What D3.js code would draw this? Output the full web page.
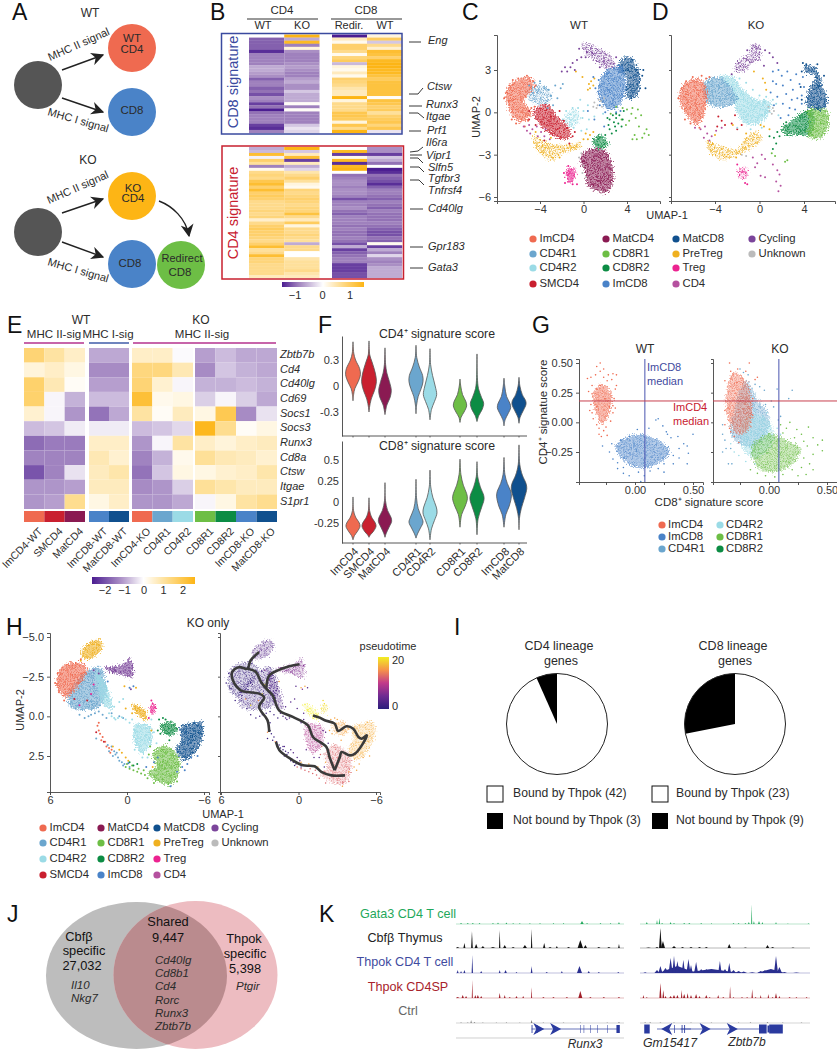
<!DOCTYPE html>
<html>
<head>
<meta charset="utf-8">
<script src="https://cdn.jsdelivr.net/npm/d3@7"></script>
<style>
  html, body { margin: 0; padding: 0; background: #fff; }
  text { font-family: "Liberation Sans", Arial, sans-serif; fill: #2b2b2b; }
  .axis text { font-size: 11px; fill: #333; }
  .axis path, .axis line { stroke: #444; stroke-width: 0.9px; }
</style>
</head>
<body>
<svg id="fig" width="837" height="1050"></svg>
<script>
var colors = {
  ImCD4: '#ef6a50', CD4R1: '#6ba6ce', CD4R2: '#9bdbe6', SMCD4: '#c9202f', MatCD4: '#8a1a52',
  CD8R1: '#6dbe45', CD8R2: '#0c8c44', ImCD8: '#4a83c8', MatCD8: '#10508e', PreTreg: '#efb020',
  Treg: '#ec2390', CD4: '#b5519f', Cycling: '#7b459b', Unknown: '#bbbbbb'
};

// ---- panel B values
var bCD8sigCD4WT = [0,-1.1,-1.1,-1.1,-1.1,-1.4,-0.9,-0.9,-0.9,-0.9,-0.6,-0.6,-0.7,-0.8,-1.1,-0.9,-0.9,-1.1,-1.0,-1.2,-0.8,-0.9,-1.3,-1.0,-1.5,-1.0,-0.9,-0.9,-0.9,-1.3,-1.4,-0.9];
var bCD8sigCD4KO = [1.5,-0.6,1.4,-0.9,0.2,-0.8,-0.9,-0.9,-0.9,-0.8,-0.7,-0.8,-0.9,-0.9,-0.7,-0.6,-0.8,-0.8,-0.4,-0.6,-0.6,-0.6,0.05,-0.9,0.05,-0.9,-0.9,-0.9,-0.9,-0.4,-0.2,-0.3];
var bCD8sigRedir = [-1.5,0.4,0.1,0.9,0.9,0.7,0.1,0.8,1.0,-0.5,0.2,0.1,0.4,0.1,0.9,0.8,0.7,0.5,0.4,0.4,1.5,0.2,0.7,0.7,0.7,1.1,1.1,1.0,0.2,1.1,0.7,1.5];
var bCD8sigCD8WT = [0.2,1.0,-0.4,0.7,0.3,1.3,1.2,0.9,1.4,1.5,1.5,1.4,1.4,1.2,1.0,1.2,1.2,1.2,1.2,1.2,0.03,1.2,1.1,0.9,1.0,0.6,0.9,1.0,1.1,0.8,1.1,-0.2];
var bCD4sigCD4WT = [-0.6,-0.5,1.3,-0.1,0.9,0.6,-0.9,0.1,0.7,0.8,0.7,1.1,1.3,0.9,1.3,0.9,1.0,0.9,0.7,0.7,0.7,0.8,0.7,0.8,0.3,0.7,0.9,1.0,0.9,0.9,0.8,0.7,0.9,1.3,0.6,0.7,1.3,0.8,0.8,0.7,0.7,0.7,0.7,0.4];
var bCD4sigCD4KO = [1.5,-0.4,0.4,1.3,-1.3,0.4,-0.6,-0.3,0.5,0.7,0.9,0.6,0.2,0.1,0.8,0.7,0.8,0.9,0.8,0.7,0.8,0.8,1.2,0.7,0.4,1.0,0.2,0.7,0.7,0.8,0.7,0.6,-0.6,0.7,0.7,0,0,0.5,0.6,0.6,0.6,0.7,0.5,0.4];
var bCD4sigRedir = [0.0,1.4,-1.3,0.1,1.4,-1.4,1.4,1.5,0,-1.0,-0.9,-0.8,-0.8,-0.9,-0.8,-0.8,-0.9,-1.2,-0.9,-0.9,-0.8,-1.0,-1.1,-0.9,-0.9,-0.9,-1.0,-0.9,-1.0,-1.0,-0.9,-1.0,-1.2,-0.6,-1.3,-1.1,-1.0,-0.9,-0.9,-1.3,-1.3,-1.3,-1.2,-1.2];
var bCD4sigCD8WT = [-0.8,-0.8,-1.3,-0.4,-0.6,-1.0,0.0,-1.5,-1.4,-1.0,-1.1,-1.2,-1.4,-1.1,-0.9,-0.9,-1.0,-1.1,-0.9,-1.0,-1.1,-0.9,-1.0,-1.0,-1.0,-0.9,-1.0,-1.1,-1.2,-1.2,-1.0,-1.1,0.1,-1.3,-0.6,-0.9,-0.3,-0.8,-0.9,-0.8,-0.6,-0.6,-0.6,-0.6];
var bGenes = [['Eng',428,41],['Ctsw',427,87],['Runx3',426,105],['Itgae',426,117],['Prf1',427,131],['Il6ra',426,143],['Vipr1',426,156],['Slfn5',428,168],['Tgfbr3',428,179],['Tnfrsf4',428,191],['Cd40lg',428,209],['Gpr183',428,247],['Gata3',428,268]];

// ---- panel E values
var eGenes = ['Zbtb7b','Cd4','Cd40lg','Cd69','Socs1','Socs3','Runx3','Cd8a','Ctsw','Itgae','S1pr1'];
var eSamples = ['ImCD4-WT','SMCD4','MatCD4','ImCD8-WT','MatCD8-WT','ImCD4-KO','CD4R1','CD4R2','CD8R1','CD8R2','ImCD8-KO','MatCD8-KO'];
var eSampleColors = ['ImCD4','SMCD4','MatCD4','ImCD8','MatCD8','ImCD4','CD4R1','CD4R2','CD8R1','CD8R2','ImCD8','MatCD8'];
var eValues = [
  [1.5,1.0,0.6,-0.9,-0.9,0.6,0.6,-0.05,-1,-0.7,-0.9,-0.9],
  [0.4,0.6,0.3,-1.2,-1.2,1.4,1.4,0.8,-1.2,-0.6,-0.8,-0.9],
  [1.6,0.8,0.1,-1,-1,1.5,0.5,-0.1,-0.8,-0.8,-0.7,-0.8],
  [1.6,-0.1,-0.8,-0.7,-0.7,2.2,0.2,0.3,-0.5,-0.1,-0.5,-0.9],
  [0.5,-0.1,-1.1,-1.5,-0.9,1.0,0.1,0.7,0.3,1.9,-1.2,-0.3],
  [-0.7,-0.6,-0.2,-0.2,-0.2,-0.7,-0.6,-0.4,2.5,1.2,0.1,0.3],
  [-1.6,-1.4,-1.4,0.6,0.6,-1.1,-0.1,1.0,0.6,0.4,0.6,0.7],
  [-1.3,-1.3,-1.3,0.8,0.5,-1.3,-0.8,0.2,1.1,0.8,0.7,0.5],
  [-1.9,-1.3,-0.3,0.7,0.9,-1.5,-0.6,0.3,0.3,0.5,0.6,0.9],
  [-1.1,-1.1,-1,0.7,0.7,-1.2,-1.1,-0.5,1.1,0.9,0.7,0.7],
  [-1.1,-1,1.2,0.3,0.6,-1.1,-1.1,-0.9,-0.1,0.3,1,1.2]
];

// ---- panel F violin outlines: [score, relative width]
var fCells = ['ImCD4','SMCD4','MatCD4','CD4R1','CD4R2','CD8R1','CD8R2','ImCD8','MatCD8'];
var fCD4score = [
  [[.51,0],[.38,.1],[.3,.35],[.2,.9],[.13,1],[.05,.7],[-.03,.25],[-.1,.08],[-.17,0]],
  [[.52,0],[.36,.1],[.28,.4],[.15,.85],[.05,1],[-.05,.75],[-.15,.3],[-.25,.06],[-.3,0]],
  [[.44,0],[.25,.08],[.15,.25],[.05,.6],[-.05,.85],[-.13,.7],[-.22,.25],[-.33,0]],
  [[.47,0],[.33,.1],[.22,.45],[.12,.9],[.05,.95],[-.03,.7],[-.12,.3],[-.22,.08],[-.32,0]],
  [[.43,0],[.25,.08],[.12,.35],[0,.7],[-.1,.9],[-.18,.6],[-.27,.2],[-.39,0]],
  [[.08,0],[0,.1],[-.1,.35],[-.18,.8],[-.23,.9],[-.3,.55],[-.36,.15],[-.42,0]],
  [[.37,0],[.1,.05],[-.03,.2],[-.13,.6],[-.2,.9],[-.27,.7],[-.34,.25],[-.41,0]],
  [[.09,0],[0,.1],[-.12,.35],[-.2,.8],[-.25,.9],[-.32,.55],[-.39,.15],[-.46,0]],
  [[.1,0],[0,.12],[-.1,.45],[-.17,.9],[-.21,.95],[-.28,.6],[-.36,.15],[-.43,0]]
];
var fCD8score = [
  [[.06,0],[-.1,.07],[-.18,.35],[-.25,.85],[-.29,.95],[-.35,.6],[-.4,.2],[-.45,0]],
  [[.05,0],[-.1,.08],[-.18,.35],[-.25,.85],[-.29,.95],[-.35,.6],[-.39,.2],[-.42,0]],
  [[.23,0],[.02,.06],[-.1,.35],[-.18,.8],[-.23,.9],[-.3,.55],[-.37,.18],[-.42,0]],
  [[.27,0],[.05,.07],[-.08,.3],[-.18,.75],[-.24,.95],[-.31,.6],[-.38,.2],[-.43,0]],
  [[.38,0],[.18,.1],[.05,.4],[-.06,.85],[-.13,.95],[-.22,.6],[-.32,.2],[-.45,0]],
  [[.51,0],[.33,.12],[.2,.45],[.1,.9],[.04,1],[-.05,.7],[-.15,.22],[-.3,0]],
  [[.48,0],[.3,.1],[.18,.45],[.08,.9],[.03,.95],[-.07,.6],[-.2,.15],[-.39,0]],
  [[.53,0],[.33,.12],[.22,.45],[.13,.9],[.07,1],[-.05,.7],[-.15,.25],[-.3,0]],
  [[.68,0],[.45,.1],[.32,.45],[.22,.95],[.16,1.05],[.05,.75],[-.08,.3],[-.2,.05],[-.33,0]]
];

// ---- panel C (WT UMAP) loose and dense regions, scattered cells
var cSparse = [
  ['CD4R1',[[-5.2,1.6],[-4,2],[-2.9,1.2],[-3.4,.6],[-4.8,.7]]],
  ['CD4R2',[[-1.7,-.2],[-.6,.2],[-.4,-.7],[-1.5,-1]]],
  ['PreTreg',[[-4.6,-1.7],[-3.7,-2],[-2.6,-2.3],[-1,-2.2],[-.2,-2.1],[-.4,-2.6],[-1.9,-2.9],[-2.8,-3.4],[-3.8,-3.1],[-4.5,-2.4]]],
  ['Cycling',[[-.2,4.9],[.6,4.8],[2.5,4],[3,3.1],[2,3.1],[1,3.7],[.2,4.1]]]
];
var cRegions = [
  ['ImCD4',[[-7.2,1.2],[-6.6,2.1],[-4.9,2.5],[-4.6,1.8],[-5.4,.8],[-4.8,-.1],[-5.7,-.7],[-6.6,-.2],[-7,.6]]],
  ['SMCD4',[[-4.6,.1],[-3.4,.6],[-2.4,-.3],[-1.2,-1.3],[-1.5,-1.9],[-2.9,-1.6],[-4.2,-.7]]],
  ['CD8R2',[[.9,-1.9],[1.6,-1.6],[2.3,-2.2],[1.5,-2.6],[.9,-2.3]]],
  ['MatCD4',[[-.2,-3],[.7,-2.6],[2,-2.7],[2.6,-3.6],[2.7,-5],[2.1,-5.7],[1.2,-5.6],[.3,-5.1],[.2,-4.2],[-.3,-3.6]]],
  ['Treg',[[-1.5,-4],[-.9,-3.9],[-.7,-4.6],[-1.3,-5],[-1.6,-4.6]]],
  ['MatCD8',[[3.2,3.4],[4,4],[4.8,3.4],[5.2,2.4],[4.9,1.2],[4,1],[4,2.6],[3.4,2.8]]],
  ['ImCD8',[[1.3,1.5],[2,2.9],[3.4,3.3],[3.9,2.4],[3.7,1],[3.2,.4],[2.3,.2],[1.7,.7]]]
];
var cPoints = [
  ['ImCD4',[[-7.1,1.4],[-6.9,.8],[-6.5,2.3],[-6,2.4],[-5.2,2.6],[-6.6,-.5],[-6.2,-.8],[-5.4,-1],[-4.6,2.2],[-4.4,1.9],[-5.1,-.6],[-7.3,1],[-6.8,1.9],[-4.8,.3],[-4.5,.4]]],
  ['CD4',[[-5.5,-1],[-5,-.9],[-4.7,-1.2],[-4.3,-1],[-4.9,-1.5],[-3.9,-1.4],[-3.5,-1.2],[-4.2,-1.7],[-5.2,-1.3],[-3.6,-1.7],[-3.1,-1.9]]],
  ['CD4R1',[[-5,1.9],[-4.5,2.1],[-4,2.2],[-3.6,1.7],[-3.2,1.6],[-3,1.2],[-2.6,1.9],[-2.1,1.7],[-2.4,1],[-2.8,.5],[-1.9,2],[-3.3,.3]]],
  ['CD4R2',[[-1.9,-.5],[-1,.3],[-.5,.3],[0,.1],[.5,-.5],[.3,-1.2],[-.2,-1.3],[-.9,-1.1],[-1.6,.1],[1.8,-.1],[-.3,.9],[.4,.5],[1,-.3],[-.1,-.4]]],
  ['PreTreg',[[.5,2],[.7,2.2],[.9,1.9],[.6,1.7],[1,2.4],[.4,1.6],[.2,-1.5],[.4,-1.9],[.6,-1.6],[0,-1.9],[-4.4,-1.4],[-3,-1.8],[-.1,2.5],[-.7,2.9],[.9,-1.4],[-2.2,-3.2]]],
  ['Unknown',[[1,.7],[1.3,.5],[1.6,.8],[1.9,1],[1.4,.9],[.9,.4],[-.4,-3.2],[-.2,-2.9],[0,-3.8],[-.1,-4.3],[1.2,.3],[1.7,.4],[.2,-4.6]]],
  ['CD8R1',[[2.5,-.1],[3,.4],[3.6,.3],[4,.2],[4.5,.3],[5,.2],[5.3,-.2],[3.5,-.5],[4.2,-.6],[4.8,-.4],[5.1,-1],[5.8,-1.2],[6,-1.6],[5.4,-1.8],[4.7,-1.6],[4.5,-1.9],[4.4,-.1],[3.9,-.9],[5.6,-1.5],[4.9,-1.9]]],
  ['CD8R2',[[2.4,-.5],[2.7,-.2],[3,-.4],[3.2,-.8],[3.5,-1],[2.9,-1],[2.4,-1.2],[2.3,-.9],[3,-.1],[3.7,.1],[2.6,-1.5],[2,-1.6],[3.3,-.2],[2.8,-.7],[3.6,-.5],[2.2,-.4],[3,-1.3]]],
  ['Cycling',[[-.6,3.7],[-.2,3.9],[-1.2,3.2],[-1.7,3.2],[-1.5,2.9],[-1,3.5],[.3,4.3],[.8,4.2],[-2,2.9],[-.4,4.5],[.2,3.9],[1.5,3.2],[-.8,3],[3,3.9]]],
  ['MatCD8',[[4.5,3.7],[5,2.8],[5.2,1.7],[5.7,1.7],[4.9,3],[4.4,1],[5.4,2.6],[5.5,3]]],
  ['ImCD8',[[.9,2.5],[1.4,2.3],[1.1,1.7],[1.5,.5],[2,0],[3,0],[3.4,.1],[.4,.1],[1,-.5],[1.9,-1]]],
  ['Treg',[[-1.4,-3.8],[-1.7,-5],[-1,-5.1],[-.6,-5.1],[-1.8,-4.3]]],
  ['SMCD4',[[-5,-.5],[-4.4,-.9],[-3,-.3],[-1.5,-1.1],[-1,-1.7],[-1.3,-2.2],[-3.6,-2],[-2.2,.1],[-1.8,-.6],[-.8,-1.4],[-5,.1]]]
];

// ---- panel D (KO UMAP)
var dSparse = [
  ['PreTreg',[[-4.8,-2],[-3.5,-2.4],[-2.1,-2.6],[-1.3,-1.9],[-.3,-1.3],[.2,-1.9],[-.8,-2.6],[-2,-3],[-3,-3.4],[-3.9,-3.2],[-4.6,-2.6]]],
  ['Cycling',[[-.6,4.9],[.1,4.7],[.1,3.8],[-.8,3.4],[-1.2,2.9],[-2.2,2.9],[-2,3.6],[-1,4.1]]],
  ['Treg',[[-1.7,-3.9],[-1.2,-3.9],[-1,-4.5],[-1.6,-4.8],[-2,-4.3]]]
];
var dRegions = [
  ['CD4R2',[[-3.6,2.6],[-2.4,2.5],[-1.5,1.6],[-.5,1],[1,.7],[.9,0],[0,-.8],[-1.3,-.8],[-2,0],[-2.6,1.6]]],
  ['CD4R1',[[-5,2.1],[-3.6,2.5],[-2.6,1.8],[-2,.9],[-3.1,.4],[-4.6,.6]]],
  ['ImCD4',[[-7.2,1.2],[-6.8,2],[-5.5,2.4],[-4.9,2],[-4.7,.8],[-5,-.2],[-5.6,-.9],[-6.4,-.4],[-7,.4]]],
  ['CD8R2',[[2.1,-1],[3,-.5],[3.8,0],[4.8,.2],[4.6,-1.6],[3.8,-1.6],[2.6,-1.6],[2,-1.3]]],
  ['CD8R1',[[4.3,.1],[6,.2],[6.1,-1.3],[5.2,-1.9],[4.3,-1.6],[4.5,-.7]]],
  ['MatCD8',[[4,3.3],[5,3.2],[5.6,2],[6.1,.6],[5.5,.2],[4.2,.5],[4.4,1.5],[5,2.6],[4.2,2.8]]]
];
var dPoints = [
  ['ImCD8',[[1.2,2.9],[1.7,3],[2,2.6],[2.5,2.9],[1.5,2],[2.1,1.9],[2.8,2.3],[3.3,2.7],[1,1.4],[1.6,1.1],[2.4,1.3],[3,1.6],[3.6,2],[2.9,.9],[3.4,1],[3.8,1.2],[1.3,.5],[2.1,.6],[3.2,.2],[3.8,.6],[2.6,-.2],[1.9,-.4],[1.2,2.2],[3.9,2.5],[4,1.8],[2.7,.3]]],
  ['CD4',[[-5.8,-1.1],[-5.3,-1.2],[-4.9,-1],[-4.7,-1.5],[-5,-1.8],[-4.3,-1.7],[-4.5,-2],[-3.9,-1.3],[-3.4,-1.1],[.2,-3],[.5,-3.3],[-.6,-3.2],[-.2,-3.6],[1.2,-3.7],[1.6,-4.1],[1.8,-4.4],[.1,-4.5],[.5,-4.6],[1.7,-5.6],[1.5,-4.9],[1.9,-5.2],[-.4,-3.9]]],
  ['SMCD4',[[-3.4,-.6],[-3.1,-.9],[-2.5,-.8],[-2,-1.2],[-1.6,-.9],[-3.7,-.3],[-2.2,-.2],[-3.8,-1]]],
  ['PreTreg',[[-1.2,-1.5],[.3,2.4],[.5,2.1],[.6,1.6],[.4,-1],[.9,-1.2],[-2.4,-.9],[-2.1,-3.2],[-4,-1.6],[.1,-.9],[-.5,2.9]]],
  ['CD8R2',[[1.3,-1.8],[1.6,-1.4],[1.5,-2.2],[1.2,-2.6],[1.8,-1.7],[2.4,-.7],[.9,-1.7]]],
  ['Unknown',[[.8,.4],[1.2,.3],[1.1,-.1],[.9,.1],[1.3,.1],[-1.6,-3],[-1.2,-3.1]]],
  ['CD8R1',[[1.1,-2.9],[2.3,-3.5],[2.5,-3.4],[1.4,-3.1]]],
  ['ImCD4',[[-7.3,1],[-6.6,2.2],[-6,2.5],[-5.2,2.6],[-4.8,2.4],[-4.5,2.5],[-6.7,-.5],[-6.2,-.8],[-5.4,-1.1]]],
  ['CD4R2',[[-1.8,2.4],[-1.2,2.1],[-.6,1.6],[0,1.2],[.6,1.1],[1.2,.9],[-2,-1.1],[-.8,-1.2],[.2,-1.1],[.4,.9],[1.5,.6],[1.7,-.2]]],
  ['Cycling',[[.5,4.4],[.9,4.2],[1.2,3.9],[-1.1,4.4],[-2.5,2.7],[.4,3.3],[1.6,3.5]]],
  ['MatCD8',[[3.9,3.5],[4.2,3.4],[3.8,2.9],[3.7,1.8],[3.8,.9],[5.8,2.6],[5.2,3.4]]],
  ['Treg',[[-2,-3.7],[-1.1,-5.1],[-1.3,-5]]]
];

// ---- panel G signature scatter
var gWTRegions = [
  ['ImCD8',[[-.17,-.2],[0,-.1],[.2,-.15],[.3,-.25],[.15,-.37],[0,-.38],[-.12,-.3]]],
  ['ImCD4',[[-.35,.28],[-.27,.32],[-.2,.22],[-.22,.08],[-.28,-.02],[-.33,.06],[-.36,.17]]]
];
var gWTPoints = [
  ['ImCD4',[[-.3,.5],[-.33,.47],[-.27,.45],[-.3,.43],[-.38,.38],[-.41,.37],[-.34,.4],[-.27,.38],[-.23,.4],[-.19,.41],[-.16,.4],[-.2,.36],[-.16,.31],[-.24,.35],[-.4,.26],[-.37,.31],[-.37,.24],[-.17,.28],[-.18,.2],[-.19,.14],[-.17,.12],[-.22,.13],[-.38,.15],[-.39,.1],[-.37,.08],[-.36,.03],[-.33,-.02],[-.31,-.05],[-.27,-.07],[-.25,-.04],[-.31,-.1],[-.29,-.12],[-.24,-.11],[-.21,.01],[-.19,.08],[-.33,.13],[-.26,.2],[-.3,.31]]],
  ['ImCD8',[[-.2,-.18],[-.22,-.25],[-.28,-.2],[-.19,-.31],[-.15,-.34],[-.1,-.38],[-.1,-.43],[-.05,-.45],[.03,-.42],[.08,-.45],[.13,-.41],[.2,-.39],[.25,-.35],[.33,-.35],[.33,-.28],[.38,-.22],[.42,-.18],[.45,-.2],[.46,-.26],[.38,-.3],[.45,-.35],[.5,-.1],[.18,.02],[.2,.03],[.24,-.03],[.12,-.05],[.02,-.06],[-.05,-.12],[-.12,-.15],[.28,-.1],[.31,-.13],[.37,-.12],[.25,-.42],[.05,-.5],[.27,-.08],[-.15,-.39]]]
];
var gKORegions = [
  ['CD4R1',[[-.2,.35],[-.1,.2],[0,.05],[-.05,-.15],[-.2,-.2],[-.33,-.1],[-.3,.1]]],
  ['CD4R2',[[-.2,.05],[-.05,.05],[.05,-.1],[-.02,-.25],[-.15,-.3],[-.25,-.15]]],
  ['CD8R1',[[-.15,-.2],[0,-.1],[.15,-.15],[.27,-.22],[.2,-.35],[.05,-.42],[-.1,-.38]]],
  ['ImCD4',[[-.36,.3],[-.3,.42],[-.2,.35],[-.15,.15],[-.17,-.05],[-.27,-.1],[-.36,.05]]]
];
var gKOPoints = [
  ['CD4R1',[[-.25,.45],[-.22,.42],[-.18,.4],[-.12,.32],[-.08,.3],[-.04,.27],[.07,.28],[.2,.27],[.17,.2],[.04,.13],[.08,.02],[-.4,-.02],[-.4,-.1],[-.38,-.15],[-.37,-.22],[-.4,-.25],[-.33,-.22],[-.35,-.35],[-.32,-.35],[.02,.18],[-.03,.15],[.1,.05]]],
  ['CD4R2',[[-.33,-.18],[-.3,-.25],[-.26,-.28],[-.2,-.33],[-.12,-.35],[.07,-.05],[.1,-.1],[-.02,.08],[-.12,.1]]],
  ['CD8R1',[[.1,-.02],[.15,-.05],[.18,0],[.24,-.06],[.28,-.1],[.34,-.04],[.38,-.13],[.42,-.19],[.46,-.15],[.46,-.24],[.38,-.27],[.33,-.2],[.3,-.3],[.35,-.35],[.28,-.38],[.2,-.4],[.12,-.44],[.05,-.46],[-.03,-.45],[-.1,-.43],[-.16,-.4],[.38,-.4],[.32,-.44],[.25,-.45],[.22,-.13],[.12,-.09],[.3,-.16]]],
  ['ImCD4',[[-.34,.5],[-.33,.43],[-.27,.45],[-.17,.5],[-.2,.43],[-.38,.35],[-.12,.36],[-.1,.38],[-.38,.1],[-.38,-.02],[-.34,-.05],[-.3,-.12],[-.26,-.17],[-.33,-.08],[-.14,.06],[-.14,.2]]]
];

// ---- panel H (KO only, reversed UMAP)
var hRegions = [
  ['CD4R2lo',[[-.6,.5],[-1.8,.6],[-1.9,1.7],[-1.1,2.35],[-.6,1.7]]],
  ['CD4R1',[[4.6,-1.2],[3.4,-2.7],[2.1,-3.1],[1.6,-1.7],[2.1,-.6],[3.4,-.4],[4.4,-.6]]],
  ['CD4R2',[[2.4,-2.9],[1.5,-1.85],[1.2,-.4],[1.9,-.8]]],
  ['ImCD4',[[5.5,-2.3],[5,-3.2],[3.7,-3.4],[3.1,-3],[3.7,-2],[4.75,-1.2],[5.4,-1.7]]],
  ['PreTreg',[[3.6,-4],[3.05,-4.6],[2.1,-4.8],[1.9,-4.4],[2.4,-3.8],[3.3,-3.6]]],
  ['PreTregMid',[[-.35,-.8],[-1.5,-.3],[-1.5,.25],[-.7,-.2]]],
  ['Cycling',[[1.75,-3],[.3,-3.3],[-.2,-3.7],[-.5,-2.7],[-.35,-2.4],[.3,-2.6],[1.35,-2.8]]],
  ['Treg',[[-1.8,-.7],[-2.25,-.7],[-2.1,-.2],[-1.8,-.25]]],
  ['CD8R2',[[-2.55,.55],[-3.6,.35],[-3.85,1],[-3.1,1.2]]],
  ['CD8R1',[[-2,2.35],[-2.8,1.8],[-3.85,2.35],[-4.1,3.2],[-3.6,4.25],[-2.8,4.25],[-1.65,3.6],[-2.3,3.2]]],
  ['MatCD8',[[-4.1,.65],[-4.8,.45],[-5.8,.35],[-5.9,1.3],[-5.4,2.15],[-4.5,2.8],[-3.85,2.15],[-4.25,1.4]]]
];
var hPoints = [
  ['ImCD4',[[2.3,.6],[2.2,.9],[2.1,1.1],[1.9,1.3],[1.7,1.6],[1.6,1.9],[1.4,2],[1.2,2.1],[1.3,2.3],[3.6,-3.6],[5.6,-2.1],[5.4,-2.7],[4.9,-1],[2.2,.4],[2,1.5]]],
  ['CD4R1',[[1.5,1.8],[1.2,1.9],[.9,2.4],[.7,2.6],[.6,2.8],[.4,2.9],[.2,3],[2.4,1.4],[3.7,-.1],[3,0],[2.5,-.2],[1.9,-.1],[1.2,-.2],[.6,0],[.3,.1],[4,-.5],[1,2.2],[-.2,3.2],[1.1,2.5],[1.4,2.2],[.8,2.3],[.3,3.1],[1.6,.1],[2.2,-.3],[2.8,-.1],[3.3,.1]]],
  ['CD4R2',[[1.4,-.2],[1,.1],[.7,.1],[.4,.05],[1,-.6],[.6,-.9],[.3,-1.1],[-.4,.2],[-.2,.4],[-1.6,2.6],[-1.2,2.6],[-.6,2.1],[-2.1,1],[-1.9,.2],[.9,.2],[1.2,.0],[.1,.2],[-2.3,1.7]]],
  ['PreTreg',[[.2,-1.9],[-.7,-1.8],[1.1,1.9],[.6,2.1],[.4,2.3],[.1,2.6],[-.1,2.8],[3.6,-3.5],[-2,3.2],[-1.9,.9],[-.4,-.2],[.1,-.5]]],
  ['CD8R1',[[.1,3.2],[-.2,3.3],[-.5,3.4],[-.8,3.5],[-1.1,3.6],[-1.4,3.7],[-1.6,3.9],[-3.9,4.1],[-2.1,4.2],[-1.8,1.9],[-1.7,2.4],[0,3],[-.4,3.1],[-.9,3.3],[-1.3,3.4]]],
  ['CD8R2',[[-2.5,.2],[-2.8,.1],[-2.6,1.1],[-2.4,.9],[-3.3,1.5],[-.8,3],[-.2,2.9],[-.5,3.1],[-3,.2],[-3.9,.8]]],
  ['ImCD8',[[-4.3,3.2],[-4.5,3.4],[-3.9,3.5],[-4.7,3],[-5,2.6],[-5.5,2.5],[-3.4,4.4],[-2.1,2.9],[-2.4,2.6],[-.2,-1.8],[-.5,-1.9],[1.5,-2.2],[-.1,2.95],[-1.5,3.2]]],
  ['Treg',[[-1.9,-1],[-1.7,.1],[-2,-.8],[3.7,-.7],[2.8,-1.4],[2.6,-2]]],
  ['SMCD4',[[2.4,1],[1.8,1.6],[3.1,-1],[4.1,-1.1]]],
  ['Cycling',[[2.2,-2.7],[2.6,-2.9],[.9,-2.9],[.5,-2.8],[-.4,-3.2],[-.3,-1.7]]]
];
// pseudotime carried by each group in the right-hand H plot
var hPseudo = { ImCD4: 1, CD4R1: 1.5, CD4R2: 3, CD4R2lo: 9, PreTreg: 3, PreTregMid: 20, Cycling: 6, Treg: 19, CD8R2: 16, CD8R1: 12.5, MatCD8: 16.5, ImCD8: 16, SMCD4: 15 };
var hTrajectories = [
  [[3.05,-4.05],[3.7,-3.53],[3.96,-3],[4.6,-3.1],[5.13,-2.8],[5.08,-2.27],[4.48,-1.64],[3.96,-1.53],[3.05,-1.43],[2.66,-1.18],[3.05,-.59],[2.4,.25],[2.27,.99]],
  [[3.96,-3],[3.3,-2.8],[2.9,-2.16],[2.5,-1.74],[2,-1.32],[1.5,-.38],[.44,.04],[-.73,.57],[-1.12,1.3],[-2.16,1.93],[-2.4,2.56],[-2.8,3.4]],
  [[2.5,-1.74],[2.27,-2.58],[1.6,-2.9],[.7,-3.15],[-.08,-3.28]],
  [[1.74,1.62],[1.48,2.14],[.44,2.77],[-.34,3.09],[-1.25,3.15],[-1.77,3.5],[-2.55,3.72],[-3.6,3.72]],
  [[-2.8,3.4],[-3.2,2.56],[-3.33,2.25],[-3.98,2.46],[-4.38,2.35],[-4.9,1.83],[-5.29,1.2],[-4.9,1.41],[-4.64,1.3],[-4.24,.78],[-3.72,.63],[-3.07,.92],[-2.8,.46],[-2.03,.25],[-1.64,.08],[-1.12,-.06]]
];

// ---- panel I, J
var iCD4pie = [42, 3];
var iCD8pie = [23, 9];

// ---- panel K peaks: [position along the locus, height, half width]
var kRunx3 = [
  [[3,1,.6],[7,1,.6],[10,1,.6],[14,1,.5],[22,1,.5],[25,1.5,.5],[30,1.5,.5],[34,1,.4],[38,1,.4],[44,1,.4],[50,1,.4],[58,1,.4],[64,1,.4],[75,3,1],[78,1,.5],[86,1,.5],[92,1,.4],[97,2,.5]],
  [[1,1,1],[5,5,.6],[9.5,17,.5],[12,4,.9],[16,2,1],[22,1,1.5],[26,18,.4],[29,3,1],[34,1,1],[41,3,1.2],[45,19,.4],[52.5,5,.7],[56,1,1],[60,2,.6],[67,1,1],[74,8,1.6],[77,3,1],[85,1,1],[97,4,.5],[91,1,1]],
  [[1,3,.5],[3,2,.5],[5,3,.6],[9.7,18,.4],[15,2,.6],[26,3,.5],[29.5,3,.8],[36,1,.5],[45,7,.5],[54,1,.7],[63,2,.5],[73.5,7,1.5],[79,2,.7],[85,1,.6],[96.6,1,.6]],
  [[1,1,1],[4,3,.7],[6,2,.6],[9.7,18,.3],[11.5,3,.6],[13,3,.7],[15,2,.6],[26,5,.5],[29,3,.5],[32,1,.6],[36,2,.6],[40,2,.5],[45,11,.3],[52,1,.7],[58,1,.7],[66,1,.7],[74,7,1.2],[80,1,.7],[88,1,.7],[97,1,.7]],
  [[3,.5,.6],[7,.5,.6],[9,3,.4],[11,1,.5],[16,.5,.5],[24,.5,.4],[30,.8,.4],[38,.5,.4],[45,3,.5],[52,.5,.5],[64,.5,.5],[74,.5,.5],[90,.5,.5],[97,1,.5]]
];
var kZbtb7b = [
  [[4,2,.5],[10,4,.4],[11.4,6,.4],[13,1,.5],[18,2,.5],[20,1,.5],[26,1,.6],[29,1,.6],[36,1,.5],[42,1,.3],[55,1,.5],[58,1,.5],[62,1,.5],[64,2,.5],[65.7,20,.3],[67,3,.4],[70,3,.6],[72,2,.4],[80,2,.4],[87,.5,.4],[99,1,.3]],
  [[5,.5,1.5],[10,1,1],[12,20,.8],[13.5,7,1.2],[20,2,1.2],[25,1,1],[30,1,1],[35,1,1],[39,1,1],[52.5,4,1],[62,.5,1],[75,3,1],[78,1,1],[90,.5,1]],
  [[3,.8,1],[22,7,11],[42,4,17],[77,4,8],[10,3,1.5],[12,7,1.2],[15,5,2],[18,15,1.2],[20,17,1],[22,12,1.2],[25.5,13,1],[28.5,14,1.2],[30,8,1],[33,11,1.2],[36,4,1.5],[39,4,1.5],[43,3,2],[47,12,1],[50,4,1.5],[52.5,10,1],[55,3,1.5],[58,2,2],[61,1.5,2],[66,.8,2],[71,2,2],[73.5,3,1.5],[80,17,1.2],[82,6,1.5],[85,1,1.5],[92,.5,2]],
  [[2,3,.4],[4,1,.4],[12,15,.6],[13.7,8,.5],[15,2,.6],[18,2,.8],[20,3,.8],[22,3,.7],[24.5,8,.4],[26,4,.7],[28,5,.5],[30,3,.6],[33,4,.7],[35,2,.6],[39,3,.7],[41,1,.5],[46,3,.5],[49,1,.6],[53,12,.35],[55,1,.4],[60,1,.5],[63,1,.5],[66,9,.4],[68,1,.5],[71,3,.4],[75.5,4,.4],[78,1,.5],[80,5,.6],[82,2,.5],[88,1,.6],[92,1,.5],[98,1,.5]],
  [[3,.8,.5],[6,.8,.5],[12,.5,.6],[20,.5,.5],[30,.5,.5],[42,.5,.5],[58,.5,.5],[65,.8,.5],[75,1,.5],[84,.6,.5],[95,.6,.5]]
];
var kLabels = [
  ['Gata3 CD4 T cell', '#1fa85b', 408, 915],
  ['Cbf\u03b2 Thymus', '#222', 405, 939],
  ['Thpok CD4 T cell', '#3f4ba0', 405, 963],
  ['Thpok CD4SP', '#a8232c', 408, 988],
  ['Ctrl', '#666', 408, 1012]
];
var kColors = ['#1fa85b', '#111', '#2a2f8f', '#a01d27', '#777'];
var kRunx3Exons = [[45,.5],[48,.5],[74,.3],[76,.3],[80,.3],[84,.3],[90,.3],[95.5,2]];
var kRunx3Chevrons = [[49,1],[59,1]];
var kZbtb7bExons = [[2.5,3.2],[20,.4],[24.5,.5],[26,.5],[70,4.5],[75,1.2],[76,8]];
var kZbtb7bChevrons = [[16,-1],[38,1],[54,1]];

var legendCols = [
  ['ImCD4','CD4R1','CD4R2','SMCD4'],
  ['MatCD4','CD8R1','CD8R2','ImCD8'],
  ['MatCD8','PreTreg','Treg','CD4'],
  ['Cycling','Unknown']
];

var svg = d3.select('#fig');
var defs = svg.append('defs');

// Scale from two reference tick positions, with its range stretched to the axis ends
function scaleFrom(v0, p0, v1, p1, pMin, pMax) {
  var s = d3.scaleLinear().domain([v0, v1]).range([p0, p1]);
  return d3.scaleLinear().domain([s.invert(pMin), s.invert(pMax)]).range([pMin, pMax]);
}

function label(x, y, str, size, opts) {
  opts = opts || {};
  var t = svg.append('text')
    .attr('x', x)
    .attr('y', y)
    .attr('font-size', size)
    .attr('text-anchor', opts.anchor || 'middle')
    .attr('dominant-baseline', 'middle')
    .text(str);
  if (opts.italic) t.attr('font-style', 'italic');
  if (opts.color) t.style('fill', opts.color);
  if (opts.rotate !== undefined) t.attr('transform', 'rotate(' + opts.rotate + ' ' + x + ' ' + y + ')');
  return t;
}

// ****************** panel letters ***************************
[['A',12,14],['B',210,14],['C',462,14],['D',652,14],['E',7,327],['F',318,327],['G',532,327],['H',6,629],['I',454,629],['J',7,916],['K',319,916]].forEach(function(d) {
  label(d[1], d[2], d[0], 23, { anchor: 'start', color: '#111' });
});

// ****************** A ***************************
function drawA() {
  defs.append('marker').attr('id', 'head').attr('viewBox', '0 0 10 10')
    .attr('refX', 9).attr('refY', 5).attr('markerWidth', 13).attr('markerHeight', 13)
    .attr('orient', 'auto').attr('markerUnits', 'userSpaceOnUse')
    .append('path').attr('d', 'M0,0L10,5L0,10L3,5Z').attr('fill', '#222');

  var circles = [[38,85,'#555'],[132,48,colors.ImCD4],[132,112,colors.ImCD8],[38,232,'#555'],[132,196,'#fdb515'],[132,264,colors.ImCD8],[181,265,colors.CD8R1]];
  svg.selectAll('circle.a').data(circles).enter().append('circle').attr('class', 'a')
    .attr('cx', function(d) { return d[0]; })
    .attr('cy', function(d) { return d[1]; })
    .attr('r', 24)
    .attr('fill', function(d) { return d[2]; });
  var arrows = ['M62,70L103,55', 'M62,98L103,112', 'M62,213L103,199', 'M62,242L103,257', 'M159,201C172,206 186,218 189,236'];
  svg.selectAll('path.a').data(arrows).enter().append('path').attr('class', 'a')
    .attr('d', function(d) { return d; })
    .attr('fill', 'none').attr('stroke', '#222').attr('stroke-width', 1.4)
    .attr('marker-end', 'url(#head)');
  label(90, 14, 'WT', 12);
  label(88, 161, 'KO', 12);
  label(79, 45, 'MHC II signal', 11, { rotate: -24 });
  label(78, 121, 'MHC I signal', 11, { rotate: 16 });
  label(78, 188, 'MHC II signal', 11, { rotate: -24 });
  label(78, 271, 'MHC I signal', 11, { rotate: 16 });
  label(132, 39, 'WT', 11.5);
  label(132, 50, 'CD4', 11.5);
  label(132, 111, 'CD8', 11.5);
  label(133, 189, 'KO', 11.5);
  label(133, 199, 'CD4', 11.5);
  label(130, 264, 'CD8', 11.5);
  label(182, 259, 'Redirect', 11);
  label(180, 273, 'CD8', 11.5);
}
drawA();

// ****************** B ***************************
function drawB() {
  var color = d3.scaleLinear().domain([-1.5, -0.95, 0, 0.8, 1.5]).range(['#4b1d91', '#9a7ab9', '#ffffff', '#fed57a', '#fdb515']);
  var xLeft = d3.scaleBand().domain([0, 1]).range([249, 319.5]);
  var xRight = d3.scaleBand().domain([2, 3]).range([332, 402]);
  var colX = function(c) { return c < 2 ? xLeft(c) : xRight(c); };

  function heat(columns, y0, y1) {
    var y = d3.scaleBand().domain(d3.range(columns[0].length)).range([y0, y1]);
    columns.forEach(function(col, c) {
      svg.append('g').selectAll('rect').data(col).enter().append('rect')
        .attr('x', colX(c))
        .attr('y', function(d, i) { return y(i); })
        .attr('width', xLeft.bandwidth())
        .attr('height', y.bandwidth() + 0.2)
        .attr('fill', function(d) { return color(d); });
    });
  }
  heat([bCD8sigCD4WT, bCD8sigCD4KO, bCD8sigRedir, bCD8sigCD8WT], 34.5, 133);
  heat([bCD4sigCD4WT, bCD4sigCD4KO, bCD4sigRedir, bCD4sigCD8WT], 147, 278);

  svg.append('rect').attr('x', 221.5).attr('y', 33.5).attr('width', 180.5).attr('height', 100.5)
    .attr('fill', 'none').attr('stroke', '#3a4a9f').attr('stroke-width', 1.5);
  svg.append('rect').attr('x', 222).attr('y', 146).attr('width', 181.5).attr('height', 133)
    .attr('fill', 'none').attr('stroke', '#c8202f').attr('stroke-width', 1.5);
  label(234, 82, 'CD8 signature', 14.5, { rotate: -90, color: '#3a4a9f' });
  label(234, 213, 'CD4 signature', 14.5, { rotate: -90, color: '#c8202f' });

  label(282, 11, 'CD4', 11.5);
  label(366, 11, 'CD8', 11.5);
  svg.append('path').attr('d', 'M247,19H318M331,19H402').attr('stroke', '#333').attr('stroke-width', 1);
  label(263, 26, 'WT', 11);
  label(302, 26, 'KO', 11);
  label(349, 26, 'Redir.', 11);
  label(385, 26, 'WT', 11);

  bGenes.forEach(function(g) {
    label(g[1], g[2], g[0], 11, { anchor: 'start', italic: true });
  });
  var connectors = [
    [[409,42],[421,42]], [[409,94],[418,94],[423,88]], [[409,106],[422,106]], [[409,113],[418,113],[424,118]],
    [[409,131],[421,131]], [[410,152],[418,151],[423,147]], [[410,155],[422,155]], [[410,158],[418,158],[423,163]],
    [[410,167],[419,167],[424,172]], [[410,180],[419,180],[424,185]], [[410,209],[423,209]], [[410,247],[423,247]], [[410,268],[423,268]]
  ];
  svg.append('g').selectAll('path').data(connectors).enter().append('path')
    .attr('d', d3.line())
    .attr('fill', 'none').attr('stroke', '#222').attr('stroke-width', 0.9);

  colorBar('bGrad', color, [-1.5, 1.5], 282, 364, 282, 287);
  var bx = d3.scaleLinear().domain([-1, 1]).range([295, 350]);
  [[-1, '\u22121'], [0, '0'], [1, '1']].forEach(function(t) {
    label(bx(t[0]), 296, t[1], 11);
  });
}

function colorBar(id, color, domain, x0, x1, y0, y1, vertical) {
  var grad = defs.append('linearGradient').attr('id', id);
  if (vertical) grad.attr('x1', 0).attr('x2', 0).attr('y1', 1).attr('y2', 0);
  d3.range(0, 1.01, 0.05).forEach(function(t) {
    grad.append('stop').attr('offset', t)
      .attr('stop-color', color(domain[0] + t * (domain[1] - domain[0])));
  });
  svg.append('rect').attr('x', x0).attr('y', y0).attr('width', x1 - x0).attr('height', y1 - y0)
    .attr('fill', 'url(#' + id + ')');
}
drawB();

// ****************** stippled scatter helpers ***************************
// roughens region edges so a dense cell cloud does not read as a flat shape
var speckle = defs.append('filter').attr('id', 'speckle')
  .attr('x', '-20%').attr('y', '-20%').attr('width', '140%').attr('height', '140%');
speckle.append('feTurbulence').attr('type', 'fractalNoise').attr('baseFrequency', 0.65)
  .attr('numOctaves', 2).attr('seed', 4).attr('result', 'noise');
speckle.append('feDisplacementMap').attr('in', 'SourceGraphic').attr('in2', 'noise')
  .attr('scale', 9).attr('xChannelSelector', 'R').attr('yChannelSelector', 'G');

var patternCount = 0;
function stipple(fill, r) {
  var id = 'st' + patternCount++;
  var p = defs.append('pattern').attr('id', id).attr('patternUnits', 'userSpaceOnUse')
    .attr('width', 5.3).attr('height', 5.3).attr('patternTransform', 'rotate(27)');
  [[.8,.8],[3.4,1.4],[1.7,3.4],[4.4,4.2],[2.6,.1]].forEach(function(c) {
    p.append('circle').attr('cx', c[0]).attr('cy', c[1]).attr('r', r).attr('fill', fill);
  });
  return 'url(#' + id + ')';
}

function scatter(g, x, y, regions, points, colorOf, under, r) {
  var hull = d3.line().x(function(d) { return x(d[0]); }).y(function(d) { return y(d[1]); }).curve(d3.curveCatmullRomClosed);
  var blobs = g.append('g').attr('filter', 'url(#speckle)');
  regions.forEach(function(reg) {
    var c = colorOf(reg[0]);
    if (under > 0) blobs.append('path').attr('d', hull(reg[1])).attr('fill', c).attr('opacity', under);
    blobs.append('path').attr('d', hull(reg[1])).attr('fill', stipple(c, r * 0.9));
  });
  points.forEach(function(set) {
    g.append('g').selectAll('circle').data(set[1]).enter().append('circle')
      .attr('cx', function(d) { return x(d[0]); })
      .attr('cy', function(d) { return y(d[1]); })
      .attr('r', r)
      .attr('fill', colorOf(set[0]));
  });
}

function axes(x, y, xTicks, yTicks, bottom, left, xFmt, yFmt, noY) {
  var xa = d3.axisBottom(x).tickValues(xTicks).tickSizeOuter(0).tickSize(3).tickPadding(1.5);
  if (xFmt) xa.tickFormat(xFmt);
  svg.append('g').attr('class', 'axis').attr('transform', 'translate(0,' + bottom + ')').call(xa);
  var ya = d3.axisLeft(y).tickValues(yTicks).tickSizeOuter(0).tickSize(noY ? 2 : 3);
  if (yFmt) ya.tickFormat(yFmt);
  var gy = svg.append('g').attr('class', 'axis').attr('transform', 'translate(' + left + ',0)').call(ya);
  if (noY) gy.selectAll('text').remove();
}

var minus = function(f) {
  return function(d) { return f(d).replace('-', '\u2212'); };
};

// ****************** C, D ***************************
function drawCD() {
  var xC = scaleFrom(-4, 540, 4, 627, 497, 660);
  var xD = scaleFrom(-4, 715, 4, 804, 671, 835);
  var y = scaleFrom(3, 70, -6, 197, 201, 35);
  var ofCluster = function(n) { return colors[n]; };
  scatter(svg.append('g'), xC, y, cSparse, [], ofCluster, 0, 1);
  scatter(svg.append('g'), xC, y, cRegions, cPoints, ofCluster, 0.45, 1);
  scatter(svg.append('g'), xD, y, dSparse, [], ofCluster, 0, 1);
  scatter(svg.append('g'), xD, y, dRegions, dPoints, ofCluster, 0.45, 1);
  var fmt = minus(d3.format('d'));
  axes(xC, y, [-4, 0, 4], [3, 0, -3, -6], 201, 497, fmt, fmt);
  axes(xD, y, [-4, 0, 4], [3, 0, -3, -6], 201, 671, fmt, fmt, true);
  label(579, 26, 'WT', 11.5);
  label(756, 26, 'KO', 11.5);
  label(477, 117, 'UMAP-2', 11, { rotate: -90 });
  label(667, 216, 'UMAP-1', 11);
  clusterLegend([533, 606, 676, 752], [239, 254, 268, 284], 6.5, 11.3);
}

function clusterLegend(xs, ys, gap, size) {
  legendCols.forEach(function(col, c) {
    col.forEach(function(name, r) {
      svg.append('circle').attr('cx', xs[c]).attr('cy', ys[r]).attr('r', 3.6).attr('fill', colors[name]);
      label(xs[c] + gap, ys[r], name, size, { anchor: 'start' });
    });
  });
}
drawCD();

// ****************** E ***************************
function drawE() {
  var color = d3.scaleLinear().domain([-2.6, -1.2, 0, 1.2, 2.6]).range(['#4b1d91', '#a78bc4', '#ffffff', '#fedd8f', '#fdb515']);
  var groups = [[0, 3, 24, 85], [3, 5, 89, 129], [5, 8, 132, 193], [8, 12, 195, 277]];
  var y = d3.scaleBand().domain(eGenes).range([348, 509]);
  var bars = svg.append('g');
  groups.forEach(function(gr) {
    var x = d3.scaleBand().domain(d3.range(gr[0], gr[1])).range([gr[2], gr[3]]);
    eValues.forEach(function(row, r) {
      svg.append('g').selectAll('rect').data(row.slice(gr[0], gr[1])).enter().append('rect')
        .attr('x', function(d, i) { return x(gr[0] + i); })
        .attr('y', y(eGenes[r]))
        .attr('width', x.bandwidth())
        .attr('height', y.bandwidth())
        .attr('fill', function(d) { return color(d); });
    });
    x.domain().forEach(function(c) {
      bars.append('rect').attr('x', x(c)).attr('y', 511).attr('width', x.bandwidth()).attr('height', 11)
        .attr('fill', colors[eSampleColors[c]]);
      var cx = x(c) + x.bandwidth() / 2 + 7;
      label(cx, 530, eSamples[c], 10.4, { anchor: 'end', rotate: -45 });
    });
  });
  eGenes.forEach(function(g) {
    label(280, y(g) + y.bandwidth() / 2, g, 11, { anchor: 'start', italic: true });
  });
  svg.append('path').attr('d', 'M24,343H84M133,343H276').attr('stroke', '#b5338f').attr('stroke-width', 1.3);
  svg.append('path').attr('d', 'M89,343H129').attr('stroke', '#3f5ba8').attr('stroke-width', 1.3);
  label(81, 321, 'WT', 12);
  label(201, 321, 'KO', 12);
  label(54, 335, 'MHC II-sig', 11.5);
  label(108, 335, 'MHC I-sig', 11.5);
  label(202, 335, 'MHC II-sig', 11.5);
  colorBar('eGrad', color, [-2.6, 2.6], 92, 195, 577, 584);
  var bx = d3.scaleLinear().domain([-2, 2]).range([105, 183]);
  [[-2, '\u22122'], [-1, '\u22121'], [0, '0'], [1, '1'], [2, '2']].forEach(function(t) {
    label(bx(t[0]), 591, t[1], 11);
  });
}
drawE();

// ****************** F ***************************
function drawF() {
  var xPos = d3.scaleOrdinal().domain(fCells).range([353, 369, 385, 416, 430, 460, 477, 504, 519]);
  var w = d3.scaleLinear().domain([0, 1]).range([0, 7.4]);
  var yTop = scaleFrom(0.3, 360, -0.3, 412, 436, 336);
  var yBot = scaleFrom(0.5, 460, -0.25, 523, 543, 441);

  function violins(data, y) {
    data.forEach(function(shape, i) {
      var cx = xPos(fCells[i]);
      var area = d3.area()
        .y(function(d) { return y(d[0]); })
        .x0(function(d) { return cx - w(d[1]); })
        .x1(function(d) { return cx + w(d[1]); })
        .curve(d3.curveCatmullRom);
      svg.append('path').attr('d', area(shape))
        .attr('fill', colors[fCells[i]]).attr('stroke', '#555').attr('stroke-width', 0.8);
    });
  }
  violins(fCD4score, yTop);
  violins(fCD8score, yBot);

  function spine(y, ticks, fmt, bottom) {
    var ya = d3.axisLeft(y).tickValues(ticks).tickSize(0).tickSizeOuter(0).tickFormat(fmt);
    svg.append('g').attr('class', 'axis').attr('transform', 'translate(342,0)').call(ya);
    svg.append('path').attr('d', 'M342,' + bottom + 'H527').attr('stroke', '#444').attr('stroke-width', 0.9);
    svg.append('g').selectAll('line').data(fCells).enter().append('line')
      .attr('x1', function(d) { return xPos(d); })
      .attr('x2', function(d) { return xPos(d); })
      .attr('y1', bottom).attr('y2', bottom + 1.5)
      .attr('stroke', '#444').attr('stroke-width', 0.8);
  }
  spine(yTop, [0.3, 0, -0.3], function(d) { return d === 0 ? '0' : String(d); }, 436);
  spine(yBot, [0.5, 0.25, 0, -0.25], function(d) { return d === 0 ? '0' : String(d); }, 543);
  label(437, 335, 'CD4\u207a signature score', 12.3);
  label(437, 447, 'CD8\u207a signature score', 12.3);
  fCells.forEach(function(c) {
    label(xPos(c) + 4, 550, c, 11, { anchor: 'end', rotate: -45 });
  });
}
drawF();

// ****************** G ***************************
function drawG() {
  var xWT = scaleFrom(0, 635, 0.5, 693, 579, 703);
  var xKO = scaleFrom(0, 769, 0.5, 827, 713, 837);
  var y = scaleFrom(0.5, 363, -0.25, 452, 482, 359);
  var ofCluster = function(n) { return colors[n]; };
  scatter(svg.append('g'), xWT, y, gWTRegions, gWTPoints, ofCluster, 0.4, 0.8);
  scatter(svg.append('g'), xKO, y, gKORegions, gKOPoints, ofCluster, 0.3, 0.8);
  var fmt = d3.format('.2f');
  axes(xWT, y, [-0.25, 0, 0.25, 0.5], [0.5, 0.25, 0, -0.25], 482, 579, function(d) { return d === 0 || d === 0.5 ? fmt(d) : ''; }, minus(function(d) { return fmt(d); }));
  axes(xKO, y, [-0.25, 0, 0.25, 0.5], [0.5, 0.25, 0, -0.25], 482, 713, function(d) { return d === 0 || d === 0.5 ? fmt(d) : ''; }, fmt, true);
  var med = 0.085, med4 = 0.18;
  [xWT, xKO].forEach(function(x) {
    svg.append('line').attr('x1', x(med)).attr('x2', x(med)).attr('y1', 359).attr('y2', 482).attr('stroke', '#4a55b0').attr('stroke-width', 1);
    svg.append('line').attr('x1', x.range()[0]).attr('x2', x.range()[1]).attr('y1', y(med4)).attr('y2', y(med4)).attr('stroke', '#c8414f').attr('stroke-width', 1);
  });
  label(645, 350, 'WT', 12);
  label(780, 350, 'KO', 12);
  label(647, 368, 'ImCD8', 11, { anchor: 'start', color: '#3f4ba0' });
  label(647, 382, 'median', 11, { anchor: 'start', color: '#3f4ba0' });
  label(673, 408, 'ImCD4', 11, { anchor: 'start', color: '#c8202f' });
  label(673, 422, 'median', 11, { anchor: 'start', color: '#c8202f' });
  label(544, 412, 'CD4\u207a signatue score', 11.5, { rotate: -90 });
  label(709, 503, 'CD8\u207a signature score', 11.5);
  [['ImCD4',662,525],['ImCD8',662,537],['CD4R1',662,549],['CD4R2',720,525],['CD8R1',720,537],['CD8R2',720,549]].forEach(function(d) {
    svg.append('circle').attr('cx', d[1]).attr('cy', d[2]).attr('r', 3.6).attr('fill', colors[d[0]]);
    label(d[1] + 6, d[2], d[0], 11.3, { anchor: 'start' });
  });
}
drawG();

// ****************** H ***************************
function drawH() {
  var xL = scaleFrom(6, 50, -6, 204, 50, 209);
  var xR = scaleFrom(6, 221, -6, 376, 220, 380);
  var y = scaleFrom(-5, 637, 2.5, 756, 792, 633);
  var pseudo = d3.scaleLinear().domain([0, 5, 10, 15, 20]).range(['#2b1f7b', '#6f2a92', '#c23a8a', '#f6924a', '#f2ee22']);
  var ofCluster = function(n) {
    if (n === 'CD4R2lo') return colors.CD4R2;
    if (n === 'PreTregMid') return colors.PreTreg;
    return colors[n];
  };
  scatter(svg.append('g'), xL, y, hRegions, hPoints, ofCluster, 0.5, 1);
  scatter(svg.append('g'), xR, y, hRegions, hPoints, function(n) { return pseudo(hPseudo[n]); }, 0.15, 0.75);
  var line = d3.line().x(function(d) { return xR(d[0]); }).y(function(d) { return y(d[1]); }).curve(d3.curveCatmullRom);
  svg.append('g').selectAll('path').data(hTrajectories).enter().append('path')
    .attr('d', line)
    .attr('fill', 'none').attr('stroke', '#3a3a3a').attr('stroke-width', 2.6).attr('stroke-linejoin', 'round');
  var fmt = minus(d3.format('d'));
  axes(xL, y, [6, 0, -6], [-5, -2.5, 0, 2.5], 792, 50, fmt, minus(d3.format('.1f')));
  axes(xR, y, [6, 0, -6], [-5, -2.5, 0, 2.5], 792, 220, fmt, null, true);
  label(208, 624, 'KO only', 12);
  label(21, 710, 'UMAP-2', 11, { rotate: -90 });
  label(223, 815, 'UMAP-1', 11);
  label(388, 647, 'pseudotime', 11);
  colorBar('hGrad', pseudo, [0, 20], 378, 389, 657, 709, true);
  label(392, 661, '20', 11, { anchor: 'start' });
  label(392, 707, '0', 11, { anchor: 'start' });
  clusterLegend([43, 101, 157, 215], [828, 843, 859, 875], 6.5, 11.3);
}
drawH();

// ****************** I ***************************
function drawI() {
  var pie = d3.pie().sort(null);
  var arc = d3.arc().innerRadius(0).outerRadius(50.5);
  [[iCD4pie, 557], [iCD8pie, 735]].forEach(function(d) {
    var g = svg.append('g').attr('transform', 'translate(' + d[1] + ',724)');
    g.selectAll('path').data(pie(d[0])).enter().append('path')
      .attr('d', arc)
      .attr('fill', function(s, i) { return i === 0 ? '#fff' : '#000'; });
    g.append('circle').attr('r', 50.5).attr('fill', 'none').attr('stroke', '#222').attr('stroke-width', 1);
  });
  label(559, 647, 'CD4 lineage', 12.5);
  label(561, 662, 'genes', 12.5);
  label(733, 647, 'CD8 lineage', 12.5);
  label(735, 662, 'genes', 12.5);
  [[487, 513, iCD4pie], [652, 676, iCD8pie]].forEach(function(d) {
    svg.append('rect').attr('x', d[0]).attr('y', 786).attr('width', 16).attr('height', 16).attr('fill', '#fff').attr('stroke', '#111').attr('stroke-width', 1);
    svg.append('rect').attr('x', d[0]).attr('y', 813).attr('width', 16).attr('height', 16).attr('fill', '#000');
    label(d[1], 794, 'Bound by Thpok (' + d[2][0] + ')', 12.2, { anchor: 'start' });
    label(d[1], 821, 'Not bound by Thpok (' + d[2][1] + ')', 12.2, { anchor: 'start' });
  });
}
drawI();

// ****************** J ***************************
function drawJ() {
  defs.append('clipPath').attr('id', 'pinkClip').append('ellipse')
    .attr('cx', 195.5).attr('cy', 975).attr('rx', 82).attr('ry', 74);
  svg.append('ellipse').attr('cx', 136.5).attr('cy', 975.5).attr('rx', 90.5).attr('ry', 73.5).attr('fill', '#bdbdbd');
  svg.append('ellipse').attr('cx', 195.5).attr('cy', 975).attr('rx', 82).attr('ry', 74).attr('fill', '#edbcc1');
  svg.append('ellipse').attr('cx', 136.5).attr('cy', 975.5).attr('rx', 90.5).attr('ry', 73.5).attr('fill', '#ba8b8e').attr('clip-path', 'url(#pinkClip)');
  [['Cbf\u03b2',79,938],['specific',84,952],['27,032',82,967],['Shared',168,923],['9,447',168,939],['Thpok',244,940],['specific',245,955],['5,398',245,970]].forEach(function(d) {
    label(d[1], d[2], d[0], 12.8, { color: '#111' });
  });
  [['Il10',71,986],['Nkg7',71,999],['Cd40lg',155,961],['Cd8b1',155,974],['Cd4',155,987],['Rorc',155,1001],['Runx3',155,1014],['Zbtb7b',155,1027],['Ptgir',236,987]].forEach(function(d) {
    label(d[1], d[2], d[0], 11.5, { anchor: 'start', italic: true });
  });
}
drawJ();

// ****************** K ***************************
function drawK() {
  var baselines = [924, 948, 973, 998, 1023];
  var xL = d3.scaleLinear().domain([0, 100]).range([456, 624]);
  var xR = d3.scaleLinear().domain([0, 100]).range([640, 810]);
  var h = d3.scaleLinear().domain([0, 20]).range([0, 20]);

  function track(peaks, x, base, color) {
    svg.append('line').attr('x1', x(0)).attr('x2', x(100)).attr('y1', base).attr('y2', base)
      .attr('stroke', color).attr('stroke-width', 0.5).attr('opacity', 0.6);
    var area = d3.area().x(function(d) { return x(d[0]); }).y0(base).y1(function(d) { return base - h(d[1]); });
    svg.append('g').selectAll('path').data(peaks).enter().append('path')
      .attr('d', function(p) { return area([[p[0] - p[2], 0], [p[0], p[1]], [p[0] + p[2], 0]]); })
      .attr('fill', color);
  }
  kRunx3.forEach(function(p, i) { track(p, xL, baselines[i], kColors[i]); });
  kZbtb7b.forEach(function(p, i) { track(p, xR, baselines[i], kColors[i]); });

  kLabels.forEach(function(d) {
    label(d[2], d[3], d[0], 12.6, { color: d[1] });
  });

  var geneY = 1029, blue = '#2a3a9f';
  function gene(x, from, to, exons, chevrons) {
    svg.append('line').attr('x1', x(from)).attr('x2', x(to)).attr('y1', geneY).attr('y2', geneY)
      .attr('stroke', blue).attr('stroke-width', 0.7);
    svg.append('g').selectAll('rect').data(exons).enter().append('rect')
      .attr('x', function(e) { return x(e[0]); })
      .attr('y', geneY - 4)
      .attr('width', function(e) { return x(e[0] + e[1]) - x(e[0]); })
      .attr('height', 8)
      .attr('fill', blue);
    svg.append('g').selectAll('path').data(chevrons).enter().append('path')
      .attr('d', function(c) {
        var px = x(c[0]), s = c[1];
        return 'M' + (px - 5 * s) + ',' + (geneY - 6) + 'L' + (px + 6 * s) + ',' + geneY + 'L' + (px - 5 * s) + ',' + (geneY + 6) + 'L' + (px - 2 * s) + ',' + geneY + 'Z';
      })
      .attr('fill', blue);
  }
  gene(xL, 45, 97, kRunx3Exons, kRunx3Chevrons);
  gene(xR, 10, 30, kZbtb7bExons.slice(1, 4), kZbtb7bChevrons.slice(0, 1));
  gene(xR, 24, 70, [], kZbtb7bChevrons.slice(1));
  svg.append('g').selectAll('rect').data(kZbtb7bExons.filter(function(e, i) { return i === 0 || i > 3; })).enter().append('rect')
    .attr('x', function(e) { return xR(e[0]); })
    .attr('y', function(e, i) { return i === 2 ? geneY - 3.5 : geneY - 4.5; })
    .attr('width', function(e) { return xR(e[0] + e[1]) - xR(e[0]); })
    .attr('height', function(e, i) { return i === 2 ? 7 : 9; })
    .attr('fill', blue);
  svg.append('line').attr('x1', 456).attr('x2', 624).attr('y1', 1038).attr('y2', 1038).attr('stroke', '#bbb').attr('stroke-width', 0.7);
  label(585, 1045, 'Runx3', 12, { italic: true });
  label(670, 1044, 'Gm15417', 12.3, { italic: true });
  label(747, 1043, 'Zbtb7b', 12, { italic: true });
}
drawK();
</script>
</body>
</html>
